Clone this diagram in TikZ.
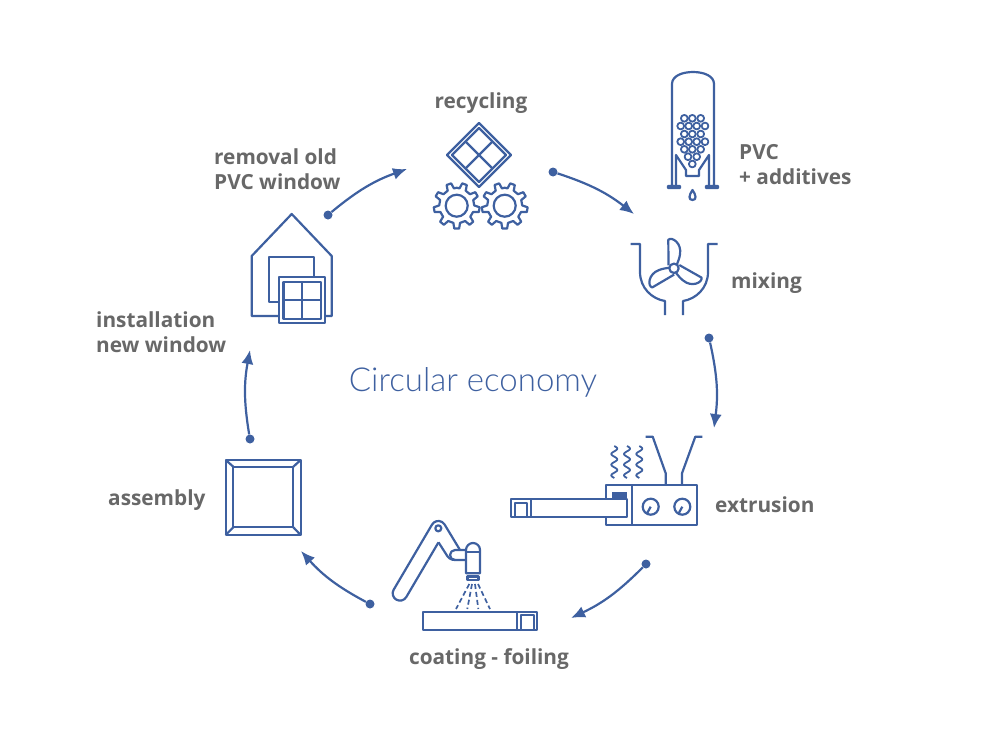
\documentclass[tikz,border=0pt]{standalone}
\usepackage{fontspec}
\setmainfont{Open Sans}
\newfontfamily\titlefont{Lato Light}
\usepackage{xcolor}
\usetikzlibrary{arrows.meta}
\definecolor{iconblue}{RGB}{62, 96, 160}
\definecolor{labelgray}{RGB}{104, 104, 104}
\tikzset{
    iconline/.style={draw=iconblue, line width=2.2pt, line join=round},
    cyclearrow/.style={draw=iconblue, line width=2.2pt, -{Latex[length=14pt,width=12pt]}},
    cycledot/.style={circle, fill=iconblue, inner sep=0pt, minimum size=9pt},
    steplabel/.style={text=labelgray, font=\fontsize{20.8}{25}\selectfont\bfseries, align=left, inner sep=0pt}
}
\begin{document}
\begin{tikzpicture}[x=1pt, y=-1pt]
    \useasboundingbox (0,0) rectangle (1000,728);

    % Title
    \node[text=iconblue, font=\fontsize{33}{40}\selectfont\titlefont, inner sep=0pt] (title) at (473,382) {Circular economy};

    % Labels
    \node[steplabel] (recycling) at (481,103) {recycling};
    \node[steplabel, anchor=west] (pvc) at (739,165) {PVC\\+ additives};
    \node[steplabel, anchor=west] (mixing) at (731,283) {mixing};
    \node[steplabel, anchor=west] (extrusion) at (715,505) {extrusion};
    \node[steplabel] (coating) at (489,659) {coating - foiling};
    \node[steplabel, anchor=west] (assembly) at (108,500) {assembly};
    \node[steplabel, anchor=west] (installation) at (96,332) {installation\\new window};
    \node[steplabel, anchor=west] (removal) at (214,169) {removal old\\PVC window};

    % Cycle arrows
    \node[cycledot] (dotrecycling) at (553,172) {};
    \coordinate (tipmixing) at (634,214);
    \draw[cyclearrow] (dotrecycling) to[bend left=10] (tipmixing);
    \node[cycledot] (dotmixing) at (709,338) {};
    \coordinate (tipextrusion) at (714,428);
    \draw[cyclearrow] (dotmixing) to[bend left=10] (tipextrusion);
    \node[cycledot] (dotextrusion) at (646,564) {};
    \coordinate (tipcoating) at (571,618);
    \draw[cyclearrow] (dotextrusion) to[bend left=10] (tipcoating);
    \node[cycledot] (dotcoating) at (370,604) {};
    \coordinate (tipassembly) at (301,551);
    \draw[cyclearrow] (dotcoating) to[bend left=10] (tipassembly);
    \node[cycledot] (dotassembly) at (250,439) {};
    \coordinate (tipinstall) at (250,350);
    \draw[cyclearrow] (dotassembly) to[bend left=10] (tipinstall);
    \node[cycledot] (dotremoval) at (328,215) {};
    \coordinate (tiprecycling) at (407,169);
    \draw[cyclearrow] (dotremoval) to[bend left=10] (tiprecycling);

    % Recycling - window on its corner
    \draw[iconline] (479,123) -- (511,155) -- (479,187) -- (447,155) -- cycle;
    \draw[iconline] (479,128) -- (506,155) -- (479,182) -- (452,155) -- cycle;
    \draw[iconline] (465.5,141.5) -- (492.5,168.5) (492.5,141.5) -- (465.5,168.5);

    % Recycling - gears
    \foreach \gx in {456.7,504.7} {
        \begin{scope}[shift={(\gx,205.7)}]
            \draw[iconline] (-90:18) \foreach \ga in {-70,-30,...,250} {
                -- (\ga-11:17.5) -- (\ga-6:23) -- (\ga+6:23) -- (\ga+11:17.5)
            } -- cycle;
            \draw[iconline] (0,0) circle (11);
        \end{scope}
    }

    % Silo
    \draw[iconline] (670,186) -- (680,186) -- (680,188) -- (668,188) -- (668,186) -- (672,186) -- (672,84)
        .. controls (672,76) and (682,72) .. (693,72) .. controls (704,72) and (714,76) .. (714,84)
        -- (714,186) -- (718,186) -- (718,188) -- (706,188) -- (706,186) -- (714,186);
    \draw[iconline] (676,186) -- (676,155) -- (686,170) -- (686,176) -- (699,176) -- (699,170) -- (709,155) -- (709,186);
    \foreach \px/\py in {684.3/118.3, 692.3/118.3, 700.7/118.3,
                         680.7/126, 688.7/126, 696.7/126, 705/126,
                         684.3/134, 692.3/134, 700.7/134,
                         680.7/141.7, 688.7/141.7, 696.7/141.7, 705/141.7,
                         684.3/149.3, 692.3/149.3, 700.7/149.3,
                         688/156.7, 696.7/156.7, 692.3/164} {
        \draw[iconline, line width=1.8pt] (\px,\py) circle (3.4);
    }
    \draw[iconline] (692.5,190) .. controls (689,195) and (688,200) .. (692.5,200) .. controls (697,200) and (696,195) .. (692.5,190) -- cycle;

    % Mixer
    \draw[iconline] (630.5,244) -- (640,244) -- (640,272) .. controls (640,288) and (652,299) .. (665,301) -- (665,315);
    \draw[iconline] (717.5,244) -- (708,244) -- (708,272) .. controls (708,288) and (696,299) .. (683,301) -- (683,315);
    \foreach \ba in {0,-120,-240} {
        \draw[iconline, shift={(674,268.3)}, rotate=\ba] (-5.5,-3) -- (-5.7,-28.5)
            .. controls (-2,-32) and (8,-25) .. (6,-14) .. controls (5.5,-10) and (4,-7) .. (3,-4);
    }
    \draw[iconline] (674,268.3) circle (4.7);

    % Extruder
    \draw[iconline] (606,485) rectangle (696.7,525);
    \draw[iconline] (631.7,485) -- (631.7,525);
    \fill[iconblue] (611.7,492.3) rectangle (626.7,499.3);
    \draw[iconline, fill=white] (511,499.3) rectangle (626.7,516.7);
    \draw[iconline] (530.7,499.3) -- (530.7,516.7);
    \draw[iconline] (515,503) rectangle (527.3,516.7);
    \draw[iconline] (650.7,506.7) circle (8) (650.7,506.7) -- (646.7,514);
    \draw[iconline] (682.3,506.7) circle (8) (682.3,506.7) -- (678.3,514);
    \draw[iconline] (645.7,436.7) -- (652.7,436.7) -- (665.7,473.3) -- (665.7,485);
    \draw[iconline] (702.3,436.7) -- (695.3,436.7) -- (682,473.3) -- (682,485);
    \foreach \wx in {614.3,627,639.3} {
        \draw[iconline, line width=1.8pt] plot[domain=0:32, samples=50, smooth] ({\wx+3*sin(\x*33.75)},{446+\x});
    }

    % Coating robot
    \draw[iconline] (423.3,612) rectangle (537.3,630);
    \draw[iconline] (517.3,612) -- (517.3,630);
    \draw[iconline] (520.7,615.3) rectangle (534,630);
    \draw[iconline] (438.5,542.3) -- (406.3,597) arc[start angle=30, end angle=210, radius=7.3]
        -- (432,524.6) arc[start angle=210, end angle=328, radius=7.3] -- (460,550);
    \draw[iconline] (438.5,542.3) -- (446,554) .. controls (448,558) and (451,560) .. (455,560) -- (466,560);
    \draw[iconline] (466,550) -- (455,550) arc[start angle=270, end angle=90, radius=5];
    \draw[iconline] (438.3,528.3) circle (3);
    \draw[iconline] (466,573.3) -- (466,550) arc[start angle=180, end angle=360, radius=7] -- (480,573.3) -- cycle;
    \draw[iconline] (466,551.7) -- (480,551.7);
    \draw[iconline] (467.5,576.5) rectangle (478.5,580);
    \foreach \sa/\sb in {469.3/456, 472/467.3, 475/478.3, 478/490} {
        \draw[iconline, line width=1.7pt, dash pattern=on 5pt off 3pt] (\sa,584) -- (\sb,609);
    }

    % House with new window
    \draw[iconline] (279,316) -- (251.7,316) -- (251.7,256) -- (291.7,214) -- (331.7,256) -- (331.7,316) -- (325,316);
    \draw[iconline] (279,301.7) -- (269,301.7) -- (269,256.7) -- (314,256.7) -- (314,277.3);
    \draw[iconline] (279,277.3) rectangle (325,323.3);
    \draw[iconline] (283.5,281.7) rectangle (320.7,318.7);
    \draw[iconline] (302,281.7) -- (302,318.7) (283.5,300) -- (320.7,300);

    % Assembled frame
    \draw[iconline] (225.7,460) rectangle (300.7,535);
    \draw[iconline] (233.3,466.7) rectangle (293.3,527.3);
    \draw[iconline] (225.7,460) -- (233.3,466.7) (300.7,460) -- (293.3,466.7)
        (225.7,535) -- (233.3,527.3) (300.7,535) -- (293.3,527.3);
\end{tikzpicture}
\end{document}
